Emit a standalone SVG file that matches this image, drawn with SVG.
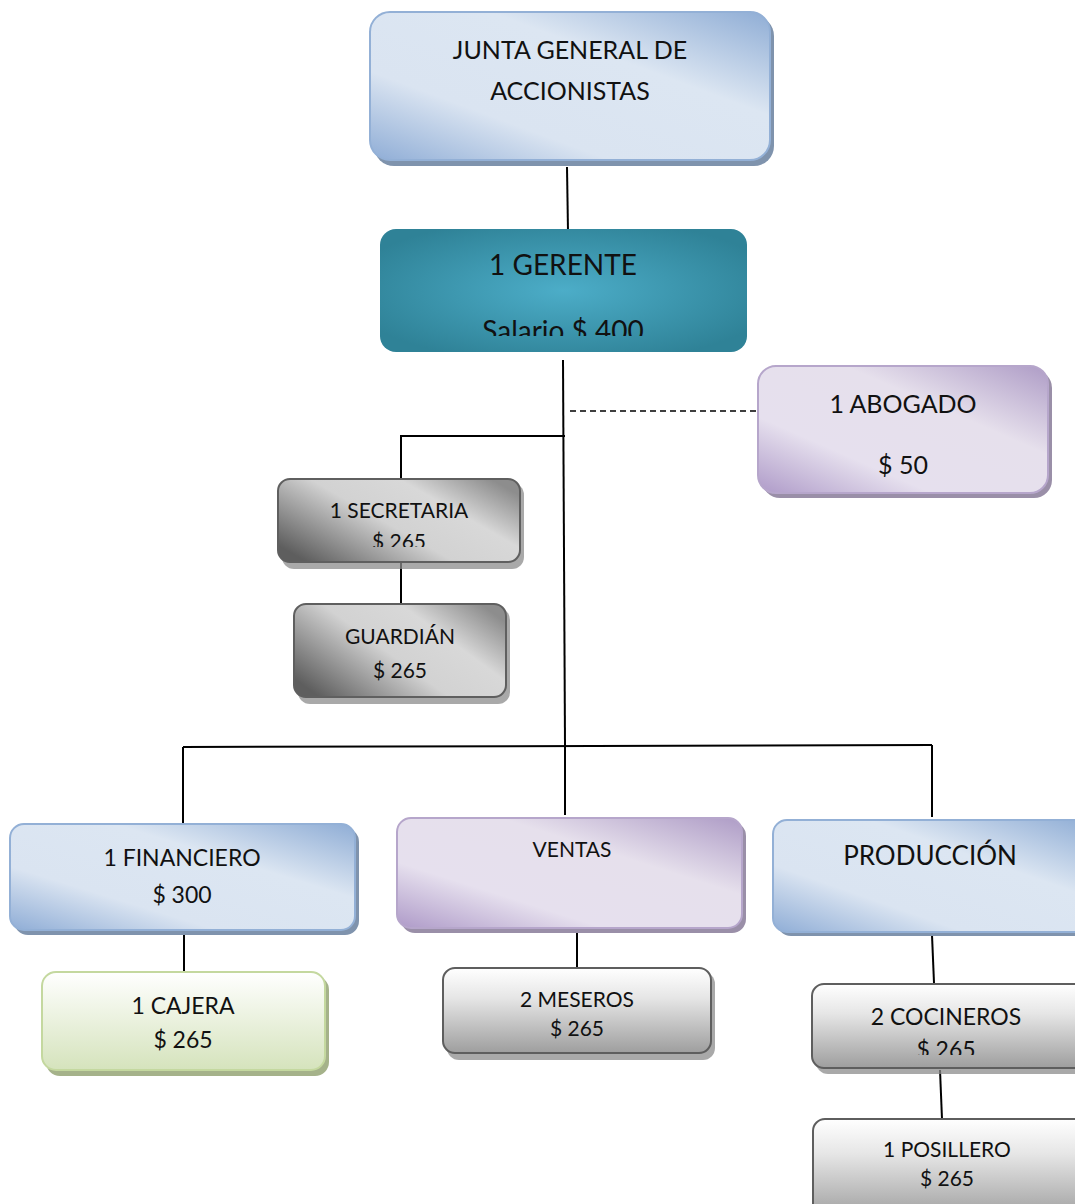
<svg xmlns="http://www.w3.org/2000/svg" width="1075" height="1204" viewBox="0 0 1075 1204">
  <defs>
    <linearGradient id="gBlue" x1="0" y1="1" x2="1" y2="0">
      <stop offset="0" stop-color="#8fadd6"/>
      <stop offset="0.3" stop-color="#dae4f1"/>
      <stop offset="0.65" stop-color="#dce6f2"/>
      <stop offset="1" stop-color="#8fadd5"/>
    </linearGradient>
    <linearGradient id="gPurple" x1="0" y1="1" x2="1" y2="0">
      <stop offset="0" stop-color="#ae9ac8"/>
      <stop offset="0.3" stop-color="#e6e0ee"/>
      <stop offset="0.65" stop-color="#e6e0ec"/>
      <stop offset="1" stop-color="#ae9cc6"/>
    </linearGradient>
    <linearGradient id="gGray" x1="0" y1="0.8" x2="1" y2="0.2">
      <stop offset="0" stop-color="#5e5e5e"/>
      <stop offset="0.45" stop-color="#d2d2d2"/>
      <stop offset="0.72" stop-color="#d8d8d8"/>
      <stop offset="1" stop-color="#8d8d8d"/>
    </linearGradient>
    <linearGradient id="gSilver" x1="0" y1="0" x2="0" y2="1">
      <stop offset="0" stop-color="#ffffff"/>
      <stop offset="0.35" stop-color="#e6e6e6"/>
      <stop offset="1" stop-color="#9e9e9e"/>
    </linearGradient>
    <linearGradient id="gGreen" x1="0" y1="0" x2="0" y2="1">
      <stop offset="0" stop-color="#ffffff"/>
      <stop offset="1" stop-color="#d5e3bc"/>
    </linearGradient>
    <radialGradient id="gTeal" cx="0.5" cy="0.5" r="0.6">
      <stop offset="0" stop-color="#4cadc8"/>
      <stop offset="1" stop-color="#2f8297"/>
    </radialGradient>
    <!-- text areas of the boxes whose last line is cut off -->
    <clipPath id="clipGerente"><rect x="380" y="229" width="367" height="107"/></clipPath>
    <clipPath id="clipSecretaria"><rect x="278" y="479" width="242" height="68"/></clipPath>
    <clipPath id="clipCocineros"><rect x="812" y="984" width="263" height="71"/></clipPath>
    <style>
      text { font-family: Lato, "Open Sans", "Liberation Sans", sans-serif; fill: #111; text-anchor: middle; }
      .shadow { fill: #8c8c8c; opacity: 0.75; }
      .bShadow { fill: #7f93ad; }
      .pShadow { fill: #9a8fa8; }
      .blue { fill: url(#gBlue); stroke: #93b0d6; stroke-width: 2; }
      .purple { fill: url(#gPurple); stroke: #b6a6cb; stroke-width: 2; }
      .gray { fill: url(#gGray); stroke: #5f5f5f; stroke-width: 2; }
      .silver { fill: url(#gSilver); stroke: #5e5e5e; stroke-width: 2; }
      .green { fill: url(#gGreen); stroke: #c4d89f; stroke-width: 2; }
      .teal { fill: url(#gTeal); }
      .conn { stroke: #000; stroke-width: 2; fill: none; }
      .dash { stroke: #000; stroke-width: 1.5; fill: none; stroke-dasharray: 6 4; }
    </style>
  </defs>

  <rect width="1075" height="1204" fill="#ffffff"/>

  <!-- connectors -->
  <g id="connectors">
    <line class="conn" x1="567" y1="167" x2="568" y2="232"/>
    <line class="conn" x1="563" y1="360" x2="565" y2="745"/>
    <polyline class="conn" points="565,436 401,436 401,480"/>
    <line class="dash" x1="570" y1="411" x2="756" y2="411"/>
    <line class="conn" x1="401" y1="562" x2="401" y2="605"/>
    <line class="conn" x1="183" y1="747" x2="932" y2="745"/>
    <line class="conn" x1="183" y1="747" x2="183" y2="823"/>
    <line class="conn" x1="565" y1="745" x2="565" y2="815"/>
    <line class="conn" x1="932" y1="745" x2="932" y2="817"/>
    <line class="conn" x1="184" y1="934" x2="184" y2="971"/>
    <line class="conn" x1="577" y1="930" x2="577" y2="968"/>
    <line class="conn" x1="932" y1="935" x2="934" y2="983"/>
    <line class="conn" x1="940" y1="1070" x2="942" y2="1119"/>
  </g>

  <!-- junta general -->
  <g id="junta">
    <rect class="bShadow" x="374" y="16" width="400" height="150" rx="20"/>
    <rect class="blue" x="370" y="12" width="400" height="148" rx="20"/>
    <text x="570" y="59" font-size="25">JUNTA GENERAL DE</text>
    <text x="570" y="100" font-size="25">ACCIONISTAS</text>
  </g>

  <!-- gerente -->
  <g id="gerente">
    <rect class="teal" x="380" y="229" width="367" height="123" rx="16"/>
    <text x="563" y="275" font-size="28">1 GERENTE</text>
    <text x="563" y="341" font-size="28" clip-path="url(#clipGerente)">Salario $ 400</text>
  </g>

  <!-- abogado -->
  <g id="abogado">
    <rect class="pShadow" x="762" y="370" width="290" height="128" rx="18"/>
    <rect class="purple" x="758" y="366" width="290" height="127" rx="18"/>
    <text x="903" y="413" font-size="25">1 ABOGADO</text>
    <text x="903" y="474" font-size="25">$ 50</text>
  </g>

  <!-- secretaria -->
  <g id="secretaria">
    <rect class="shadow" x="282" y="483" width="242" height="86" rx="12"/>
    <rect class="gray" x="278" y="479" width="242" height="83" rx="12"/>
    <text x="399" y="518" font-size="21">1 SECRETARIA</text>
    <text x="399" y="549" font-size="21" clip-path="url(#clipSecretaria)">$ 265</text>
  </g>

  <!-- guardian -->
  <g id="guardian">
    <rect class="shadow" x="298" y="608" width="212" height="96" rx="12"/>
    <rect class="gray" x="294" y="604" width="212" height="93" rx="12"/>
    <text x="400" y="644" font-size="21">GUARDIÁN</text>
    <text x="400" y="678" font-size="21">$ 265</text>
  </g>

  <!-- financiero -->
  <g id="financiero">
    <rect class="bShadow" x="14" y="828" width="345" height="107" rx="14"/>
    <rect class="blue" x="10" y="824" width="345" height="106" rx="14"/>
    <text x="182" y="866" font-size="23">1 FINANCIERO</text>
    <text x="182" y="903" font-size="23">$ 300</text>
  </g>

  <!-- cajera -->
  <g id="cajera">
    <rect x="46" y="976" width="283" height="100" rx="14" fill="#a5b28a"/>
    <rect class="green" x="42" y="972" width="283" height="98" rx="14"/>
    <text x="183" y="1014" font-size="23">1 CAJERA</text>
    <text x="183" y="1048" font-size="23">$ 265</text>
  </g>

  <!-- ventas -->
  <g id="ventas">
    <rect class="pShadow" x="401" y="822" width="345" height="111" rx="14"/>
    <rect class="purple" x="397" y="818" width="345" height="110" rx="14"/>
    <text x="572" y="857" font-size="21">VENTAS</text>
  </g>

  <!-- meseros -->
  <g id="meseros">
    <rect class="shadow" x="447" y="972" width="268" height="88" rx="12"/>
    <rect class="silver" x="443" y="968" width="268" height="85" rx="12"/>
    <text x="577" y="1007" font-size="21">2 MESEROS</text>
    <text x="577" y="1036" font-size="21">$ 265</text>
  </g>

  <!-- produccion -->
  <g id="produccion">
    <rect class="bShadow" x="777" y="824" width="320" height="112" rx="14"/>
    <rect class="blue" x="773" y="820" width="320" height="112" rx="14"/>
    <text x="930" y="865" font-size="26">PRODUCCIÓN</text>
  </g>

  <!-- cocineros -->
  <g id="cocineros">
    <rect class="shadow" x="816" y="988" width="280" height="86" rx="12"/>
    <rect class="silver" x="812" y="984" width="280" height="84" rx="12"/>
    <text x="946" y="1025" font-size="23">2 COCINEROS</text>
    <text x="946" y="1058" font-size="23" clip-path="url(#clipCocineros)">$ 265</text>
  </g>

  <!-- posillero -->
  <g id="posillero">
    <rect class="silver" x="813" y="1119" width="280" height="100" rx="12"/>
    <text x="947" y="1157" font-size="21">1 POSILLERO</text>
    <text x="947" y="1186" font-size="21">$ 265</text>
  </g>
</svg>
